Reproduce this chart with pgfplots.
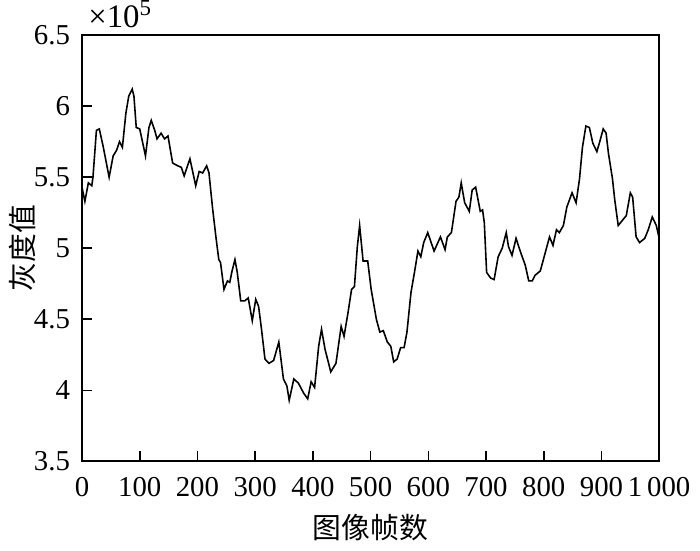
\documentclass[border=0pt]{standalone}
\usepackage{fontspec}
\setmainfont{Liberation Serif}
\newfontfamily\cjk{Noto Sans CJK SC}
\usepackage{pgfplots}
\pgfplotsset{compat=1.18}
\begin{document}
\fontsize{14.5}{16}\selectfont
\begin{tikzpicture}
\begin{axis}[
  name=ax,
  scale only axis, width=290.5pt, height=214.5pt,
  xmin=0, xmax=1000, ymin=3.5, ymax=6.5,
  xtick={0,100,...,1000},
  xticklabels={0,100,200,300,400,500,600,700,800,900,1\,000},
  ytick={3.5,4,4.5,5,5.5,6,6.5},
  yticklabels={3.5,4,4.5,5,5.5,6,6.5},
  tick align=inside, xtick pos=bottom, ytick pos=left,
  major tick length=5pt,
  axis line style={line width=0.9pt},
  every tick/.style={line width=0.8pt, black},
  ticklabel style={font=\fontsize{14.5}{16}\selectfont},
  xticklabel style={yshift=-3pt},
  yticklabel style={xshift=-1pt},
  /pgf/number format/assume math mode=true,
  xlabel={\cjk 图像帧数}, ylabel={\cjk 灰度值},
  label style={font=\fontsize{14.5}{16}\selectfont},
  ylabel shift=-11pt,
  xlabel shift=-1pt,
]
\addplot[black, line width=0.8pt] coordinates {
(0,5.43)(5,5.33)(11,5.46)(17,5.44)(19,5.50)(25,5.83)(30,5.84)(37,5.71)(47,5.50)(54,5.65)
(60,5.69)(65,5.75)(70,5.71)(76,5.95)(81,6.07)(87,6.12)(90,6.07)(94,5.85)(100,5.84)(110,5.65)
(116,5.85)(120,5.90)(126,5.83)(130,5.77)(137,5.81)(143,5.77)(149,5.79)(157,5.60)(166,5.58)(172,5.57)
(177,5.51)(187,5.63)(197,5.44)(203,5.54)(209,5.53)(216,5.58)(220,5.53)(226,5.29)(232,5.08)(237,4.92)
(240,4.90)(246,4.71)(252,4.77)(256,4.76)(260,4.84)(265,4.92)(269,4.83)(275,4.63)(282,4.63)(288,4.65)
(295,4.49)(301,4.64)(306,4.59)(311,4.43)(317,4.22)(324,4.19)(332,4.21)(341,4.34)(349,4.08)(355,4.03)
(359,3.93)(367,4.08)(375,4.05)(384,3.98)(391,3.94)(397,4.06)(403,4.02)(410,4.31)(415,4.43)(421,4.29)
(431,4.13)(440,4.19)(449,4.45)(454,4.38)(461,4.55)(467,4.71)(472,4.73)(477,5.01)(481,5.16)(487,4.91)
(495,4.91)(501,4.71)(510,4.50)(516,4.41)(522,4.42)(529,4.34)(535,4.31)(540,4.20)(546,4.22)(552,4.30)
(558,4.30)(563,4.41)(570,4.69)(576,4.83)(582,4.98)(587,4.94)(592,5.04)(599,5.11)(610,4.98)(621,5.08)
(629,4.99)(633,5.08)(640,5.11)(648,5.33)(653,5.36)(657,5.46)(663,5.32)(671,5.26)(676,5.41)(682,5.43)
(690,5.26)(694,5.27)(697,5.18)(701,4.83)(708,4.79)(714,4.78)(721,4.94)(728,5.00)(735,5.11)(739,5.01)
(745,4.95)(752,5.07)(760,4.97)(768,4.88)(774,4.77)(780,4.77)(785,4.81)(794,4.84)(800,4.93)(810,5.08)
(816,5.02)(822,5.13)(827,5.11)(834,5.16)(840,5.29)(849,5.39)(856,5.32)(862,5.49)(867,5.71)(873,5.86)
(879,5.85)(885,5.74)(892,5.68)(897,5.75)(903,5.84)(908,5.81)(912,5.67)(919,5.49)(923,5.34)(929,5.16)
(937,5.20)(943,5.23)(950,5.39)(954,5.36)(960,5.08)(966,5.04)(975,5.07)(981,5.13)(988,5.22)(995,5.16)
(1000,5.07)
};
\end{axis}
\node[anchor=south west, inner sep=0pt, xshift=3pt, yshift=3.5pt, font=\fontsize{16.5}{18}\selectfont]
  at (ax.north west) {×10\textsuperscript{5}};
\end{tikzpicture}
\end{document}
